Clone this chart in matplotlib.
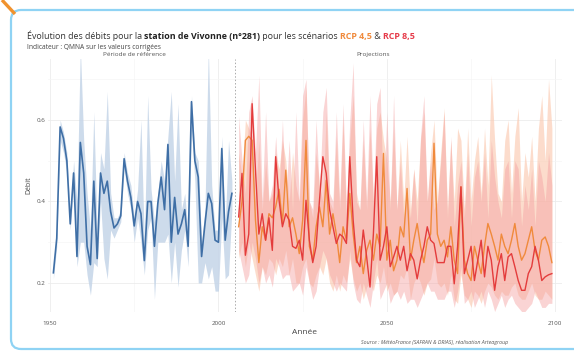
import numpy as np
import matplotlib
matplotlib.use("Agg")
import matplotlib.pyplot as plt
from matplotlib.patches import FancyBboxPatch
from matplotlib.lines import Line2D
from matplotlib.transforms import IdentityTransform

plt.rcParams['font.family'] = ['Open Sans', 'DejaVu Sans']

# --- data: reference period (1951-2004) ---
ref_years = list(range(1951, 2005))
ref_mean = [0.225, 0.31, 0.583, 0.555, 0.50, 0.345, 0.47, 0.265, 0.545, 0.47,
            0.29, 0.245, 0.45, 0.26, 0.47, 0.42, 0.45, 0.375, 0.335, 0.345,
            0.365, 0.505, 0.45, 0.41, 0.34, 0.40, 0.37, 0.255, 0.40, 0.40,
            0.29, 0.395, 0.46, 0.38, 0.54, 0.30, 0.41, 0.32, 0.345, 0.38,
            0.29, 0.645, 0.50, 0.46, 0.265, 0.345, 0.42, 0.395, 0.305, 0.30,
            0.53, 0.305, 0.375, 0.42]
ref_low = [0.21, 0.29, 0.55, 0.52, 0.47, 0.33, 0.44, 0.24, 0.30, 0.30,
           0.22, 0.17, 0.25, 0.24, 0.40, 0.26, 0.21, 0.33, 0.31, 0.33,
           0.35, 0.48, 0.42, 0.38, 0.30, 0.36, 0.30, 0.22, 0.33, 0.36,
           0.16, 0.30, 0.30, 0.30, 0.32, 0.20, 0.30, 0.19, 0.28, 0.33,
           0.24, 0.58, 0.45, 0.20, 0.20, 0.25, 0.21, 0.24, 0.18, 0.18,
           0.36, 0.21, 0.22, 0.38]
ref_high = [0.24, 0.33, 0.60, 0.57, 0.52, 0.37, 0.50, 0.40, 0.78, 0.55,
            0.42, 0.33, 0.62, 0.32, 0.52, 0.48, 0.67, 0.42, 0.36, 0.36,
            0.38, 0.52, 0.47, 0.44, 0.36, 0.43, 0.60, 0.30, 0.66, 0.43,
            0.35, 0.42, 0.50, 0.45, 0.56, 0.67, 0.45, 0.64, 0.38, 0.42,
            0.32, 0.66, 0.52, 0.50, 0.30, 0.38, 0.78, 0.44, 0.33, 0.33,
            0.56, 0.34, 0.55, 0.45]

# --- data: projections (2006-2099) ---
proj_years = list(range(2006, 2100))
rcp45_mean = [0.338, 0.40, 0.55, 0.56, 0.55, 0.354, 0.25, 0.338, 0.305, 0.37,
              0.36, 0.387, 0.43, 0.346, 0.477, 0.338, 0.36, 0.32, 0.272, 0.354,
              0.55, 0.29, 0.256, 0.338, 0.387, 0.338, 0.452, 0.32, 0.37, 0.32,
              0.25, 0.338, 0.305, 0.42, 0.32, 0.25, 0.29, 0.223, 0.28, 0.305,
              0.256, 0.32, 0.29, 0.518, 0.256, 0.305, 0.23, 0.256, 0.338, 0.313,
              0.432, 0.256, 0.305, 0.346, 0.29, 0.25, 0.305, 0.32, 0.543, 0.32,
              0.29, 0.305, 0.264, 0.338, 0.256, 0.223, 0.436, 0.256, 0.223, 0.206,
              0.29, 0.256, 0.223, 0.29, 0.346, 0.32, 0.29, 0.256, 0.32, 0.29,
              0.272, 0.305, 0.346, 0.29, 0.256, 0.272, 0.305, 0.338, 0.28, 0.256,
              0.305, 0.313, 0.29, 0.25]
rcp85_mean = [0.362, 0.469, 0.268, 0.32, 0.64, 0.477, 0.32, 0.37, 0.305, 0.36,
              0.28, 0.51, 0.403, 0.338, 0.37, 0.354, 0.29, 0.285, 0.305, 0.256,
              0.403, 0.305, 0.25, 0.29, 0.403, 0.51, 0.469, 0.38, 0.338, 0.297,
              0.32, 0.313, 0.297, 0.51, 0.354, 0.256, 0.24, 0.33, 0.264, 0.19,
              0.32, 0.51, 0.256, 0.29, 0.338, 0.24, 0.264, 0.29, 0.256, 0.29,
              0.23, 0.272, 0.256, 0.21, 0.256, 0.29, 0.338, 0.305, 0.297, 0.25,
              0.25, 0.25, 0.29, 0.29, 0.198, 0.29, 0.436, 0.223, 0.256, 0.29,
              0.206, 0.256, 0.305, 0.215, 0.29, 0.256, 0.182, 0.24, 0.272, 0.206,
              0.264, 0.272, 0.24, 0.206, 0.182, 0.182, 0.223, 0.24, 0.29, 0.256,
              0.206, 0.215, 0.22, 0.223]
rcp45_low = [0.26, 0.30, 0.24, 0.30, 0.26, 0.22, 0.18, 0.24, 0.22, 0.26,
             0.25, 0.22, 0.26, 0.24, 0.28, 0.22, 0.26, 0.20, 0.20, 0.24,
             0.26, 0.20, 0.19, 0.22, 0.24, 0.22, 0.26, 0.20, 0.18, 0.22,
             0.18, 0.22, 0.20, 0.26, 0.21, 0.18, 0.20, 0.16, 0.19, 0.20,
             0.18, 0.22, 0.20, 0.24, 0.18, 0.20, 0.17, 0.18, 0.22, 0.21,
             0.24, 0.16, 0.20, 0.22, 0.20, 0.17, 0.20, 0.21, 0.26, 0.20,
             0.19, 0.20, 0.17, 0.22, 0.16, 0.15, 0.22, 0.17, 0.16, 0.14,
             0.18, 0.17, 0.15, 0.18, 0.20, 0.19, 0.17, 0.16, 0.18, 0.17,
             0.17, 0.19, 0.20, 0.17, 0.16, 0.16, 0.18, 0.20, 0.17, 0.16,
             0.16, 0.18, 0.17, 0.16]
rcp45_high = [0.52, 0.46, 0.60, 0.58, 0.56, 0.40, 0.55, 0.38, 0.50, 0.40,
              0.42, 0.52, 0.48, 0.55, 0.50, 0.40, 0.52, 0.44, 0.40, 0.60,
              0.68, 0.40, 0.36, 0.52, 0.44, 0.40, 0.62, 0.40, 0.38, 0.56,
              0.38, 0.60, 0.36, 0.55, 0.66, 0.42, 0.38, 0.55, 0.38, 0.58,
              0.40, 0.58, 0.62, 0.55, 0.50, 0.40, 0.58, 0.38, 0.55, 0.40,
              0.56, 0.38, 0.48, 0.40, 0.55, 0.62, 0.40, 0.52, 0.60, 0.40,
              0.52, 0.63, 0.38, 0.55, 0.40, 0.58, 0.55, 0.38, 0.58, 0.40,
              0.50, 0.56, 0.42, 0.58, 0.44, 0.71, 0.55, 0.42, 0.40, 0.55,
              0.60, 0.42, 0.56, 0.63, 0.40, 0.52, 0.46, 0.56, 0.40, 0.58,
              0.66, 0.50, 0.70, 0.58]
rcp85_low = [0.28, 0.24, 0.20, 0.22, 0.30, 0.26, 0.20, 0.24, 0.20, 0.22,
             0.19, 0.26, 0.24, 0.21, 0.22, 0.22, 0.18, 0.19, 0.20, 0.17,
             0.24, 0.20, 0.16, 0.18, 0.24, 0.28, 0.26, 0.22, 0.20, 0.18,
             0.20, 0.19, 0.18, 0.28, 0.20, 0.16, 0.15, 0.20, 0.17, 0.14,
             0.20, 0.26, 0.16, 0.18, 0.20, 0.15, 0.17, 0.18, 0.16, 0.18,
             0.15, 0.16, 0.16, 0.14, 0.16, 0.18, 0.20, 0.18, 0.18, 0.16,
             0.16, 0.16, 0.18, 0.18, 0.14, 0.18, 0.24, 0.15, 0.16, 0.18,
             0.14, 0.16, 0.18, 0.14, 0.18, 0.16, 0.13, 0.15, 0.17, 0.14,
             0.16, 0.17, 0.15, 0.14, 0.13, 0.13, 0.14, 0.15, 0.18, 0.16,
             0.14, 0.14, 0.15, 0.15]
rcp85_high = [0.61, 0.50, 0.42, 0.62, 0.66, 0.52, 0.71, 0.40, 0.62, 0.40,
              0.44, 0.56, 0.42, 0.60, 0.40, 0.55, 0.38, 0.62, 0.40, 0.66,
              0.70, 0.40, 0.38, 0.60, 0.42, 0.62, 0.68, 0.42, 0.40, 0.62,
              0.40, 0.64, 0.38, 0.60, 0.74, 0.40, 0.38, 0.60, 0.40, 0.66,
              0.40, 0.64, 0.68, 0.40, 0.62, 0.38, 0.66, 0.38, 0.50, 0.36,
              0.42, 0.36, 0.48, 0.34, 0.56, 0.66, 0.40, 0.50, 0.38, 0.40,
              0.50, 0.62, 0.36, 0.56, 0.34, 0.44, 0.50, 0.36, 0.52, 0.34,
              0.46, 0.50, 0.40, 0.52, 0.36, 0.55, 0.46, 0.40, 0.36, 0.48,
              0.50, 0.36, 0.50, 0.48, 0.34, 0.44, 0.38, 0.48, 0.34, 0.50,
              0.46, 0.40, 0.52, 0.44]

W, H = 574, 352
fig = plt.figure(figsize=(W / 100, H / 100), dpi=100)
fig.patch.set_facecolor('white')

# frame around the chart (pixel coords)
frame = FancyBboxPatch((11, 3), 600, 339, boxstyle="round,pad=0,rounding_size=10",
                       transform=IdentityTransform(), fill=False,
                       edgecolor='#8fd3f4', linewidth=1.6)
fig.patches.append(frame)
fig.lines.append(Line2D([2, 15], [352, 338], transform=IdentityTransform(),
                        color='#f0922e', linewidth=2.4, solid_capstyle='butt'))

ax = fig.add_axes([48 / W, (H - 311.5) / H, (562 - 48) / W, (311.5 - 58.9) / H])
ax.set_xlim(1949.4, 2102)
ax.set_ylim(0.13, 0.75)

ax.set_xticks([1950, 2000, 2050, 2100])
ax.set_xticks([1975, 2025, 2075], minor=True)
ax.set_yticks([0.2, 0.4, 0.6])
ax.set_yticks([0.3, 0.5, 0.7], minor=True)
ax.grid(True, which='major', color='#ececec', linewidth=0.6)
ax.grid(True, which='minor', color='#f5f5f5', linewidth=0.5)
ax.set_axisbelow(True)
for s in ax.spines.values():
    s.set_visible(False)
ax.tick_params(which='both', length=0, labelsize=4.5, labelcolor='#555555')
ax.tick_params(axis='x', pad=7)
ax.tick_params(axis='y', pad=2)
ax.yaxis.set_major_formatter(matplotlib.ticker.FormatStrFormatter('%.1f'))

# bands
ax.fill_between(ref_years, ref_low, ref_high, color='#c5d5e8', alpha=0.85, linewidth=0)
ax.fill_between(proj_years, rcp45_low, rcp45_high, color='#fbc6ab', alpha=0.6, linewidth=0)
ax.fill_between(proj_years, rcp85_low, rcp85_high, color='#f4a0a0', alpha=0.45, linewidth=0)

# lines
ax.plot(ref_years, ref_mean, color='#3f6fa6', linewidth=1.2)
ax.plot(proj_years, rcp45_mean, color='#f08a3c', linewidth=1.0)
ax.plot(proj_years, rcp85_mean, color='#e43c3c', linewidth=1.0)

ax.axvline(2005, color='#aaaaaa', linestyle=(0, (1.5, 2)), linewidth=0.7)

ax.text(1975, 0.762, 'Période de référence', ha='center', va='center',
        fontsize=4.6, color='#555555', clip_on=False)
ax.text(2046, 0.762, 'Projections', ha='center', va='center',
        fontsize=4.6, color='#555555', clip_on=False)

ax.set_xlabel('Année', fontsize=6, color='#444444', labelpad=2)
ax.set_ylabel('Débit', fontsize=5, color='#444444', labelpad=3)

# title built from pieces placed one after the other
parts = [('Évolution des débits pour la ', 'normal', '#333333'),
         ('station de Vivonne (n°281)', 'bold', '#222222'),
         (' pour les scénarios ', 'normal', '#333333'),
         ('RCP 4,5', 'bold', '#f08a3c'),
         (' & ', 'normal', '#333333'),
         ('RCP 8,5', 'bold', '#e63b4a')]
t = fig.text(27 / W, 1 - 39 / H, parts[0][0], fontsize=6.4, fontweight=parts[0][1],
             color=parts[0][2], va='baseline')
for txt, w, c in parts[1:]:
    t = ax.annotate(txt, xy=(1, 0), xycoords=t, fontsize=6.4, fontweight=w,
                    color=c, va='bottom', ha='left', annotation_clip=False)

fig.text(27 / W, 1 - 49 / H, 'Indicateur : QMNA sur les valeurs corrigées',
         fontsize=4.8, color='#444444', va='baseline')
fig.text(508 / W, 1 - 344 / H,
         'Source : MétéoFrance (SAFRAN & DRIAS), réalisation Arteagroup',
         fontsize=3.8, style='italic', color='#555555', ha='right', va='baseline')

fig.savefig('out.png', dpi=100)
